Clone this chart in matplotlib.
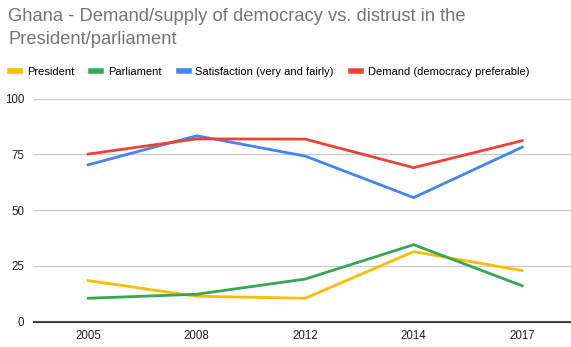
import matplotlib
matplotlib.use("Agg")
import matplotlib.pyplot as plt
from matplotlib.lines import Line2D

years = ["2005", "2008", "2012", "2014", "2017"]
president = [18.4, 11.4, 10.5, 31.4, 22.9]
parliament = [10.5, 12.3, 19.1, 34.5, 16.1]
satisfaction = [70.3, 83.3, 74.2, 55.6, 78.2]
demand = [75.1, 81.9, 81.8, 69.0, 81.1]
series_names = ["President", "Parliament", "Satisfaction (very and fairly)", "Demand (democracy preferable)"]
colors = ["#fbbc04", "#34a853", "#4285f4", "#ea4335"]
yticks = [0, 25, 50, 75, 100]

plt.rcParams['font.family'] = ['Arial', 'Liberation Sans', 'DejaVu Sans']

fig = plt.figure(figsize=(5.71, 3.47), dpi=100)
W, H = 571, 347
left, right, top, bottom = 34, 571, 98.5, 321.7
ax = fig.add_axes([left / W, 1 - bottom / H, (right - left) / W, (bottom - top) / H])

x = list(range(len(years)))
for vals, c in zip([president, parliament, satisfaction, demand], colors):
    ax.plot(x, vals, color=c, lw=2, solid_joinstyle='miter')

ax.set_ylim(0, 100)
ax.set_xlim(-0.5, 4.45)
ax.set_yticks(yticks)
ax.set_yticklabels([str(t) for t in yticks])
ax.set_xticks(x)
ax.set_xticklabels(years)
ax.grid(axis='y', color='#cccccc', lw=1)
ax.set_axisbelow(True)
for s in ['top', 'right', 'left']:
    ax.spines[s].set_visible(False)
ax.spines['bottom'].set_color('#333333')
ax.spines['bottom'].set_linewidth(1.5)
ax.spines['bottom'].set_zorder(0.5)
ax.tick_params(length=0, labelsize=8.3, colors='#222222', pad=6)
ax.tick_params(axis='y', pad=7)

fig.text(8 / W, 1 - 8 / H, "Ghana - Demand/supply of democracy vs. distrust in the\nPresident/parliament",
         fontsize=13.2, color='#757575', va='top', ha='left', linespacing=1.45)

handles = [Line2D([0], [0], color=c, lw=4) for c in colors]
fig.legend(handles, series_names, loc='center left', bbox_to_anchor=(10 / W, 1 - 72 / H),
           ncol=4, frameon=False, fontsize=8.0, handlelength=0.9, handletextpad=0.6,
           columnspacing=1.55, borderaxespad=0, borderpad=0)

fig.savefig("out.png", dpi=100, facecolor='white')
